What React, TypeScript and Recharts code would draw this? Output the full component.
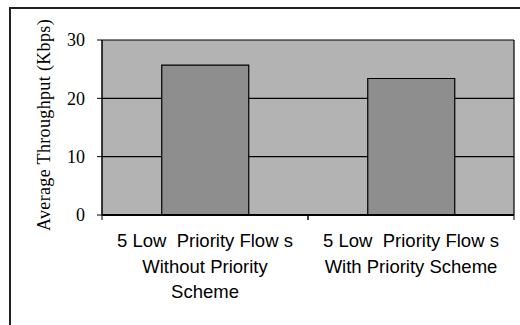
import { BarChart, Bar, XAxis, YAxis, CartesianGrid } from "recharts";

const categories = ["Without Priority Scheme", "With Priority Scheme"];
const tickLabels = [
  ["5 Low  Priority Flow s", "Without Priority", "Scheme"],
  ["5 Low  Priority Flow s", "With Priority Scheme"],
];
const throughput = [25.7, 23.4];
const yTicks = [0, 10, 20, 30];

const data = categories.map((name, i) => ({ name, value: throughput[i], lines: tickLabels[i] }));

const serif = "'Liberation Serif', 'Times New Roman', serif";
const sans = "'Liberation Sans', Arial, sans-serif";

const CategoryTick = (props: any) => {
  const { x, y, payload, index } = props;
  const half = payload.offset || 0;
  const lines = tickLabels[index] || [];
  return (
    <g>
      <line x1={x - half} y1={y} x2={x - half} y2={y + 5} stroke="#000" />
      <line x1={x + half} y1={y} x2={x + half} y2={y + 5} stroke="#000" />
      {lines.map((t, i) => (
        <text
          key={i}
          x={x}
          y={y + 32 + i * 25.5}
          textAnchor="middle"
          fontFamily={sans}
          fontSize={18.5}
          fill="#000"
          style={{ whiteSpace: "pre" }}
        >
          {t}
        </text>
      ))}
    </g>
  );
};

export default function App() {
  return (
    <div style={{ position: "absolute", left: 0, top: 0, width: 520, height: 325, overflow: "hidden", background: "#fff" }}>
      <div
        style={{
          position: "absolute",
          left: 9,
          top: 7,
          width: 600,
          height: 400,
          borderLeft: "2px solid #222",
          borderTop: "2px solid #222",
        }}
      />
      <BarChart
        width={520}
        height={325}
        data={data}
        margin={{ top: 40, right: 6, bottom: 0, left: 0 }}
        barCategoryGap="29%"
        style={{ position: "absolute", left: 0, top: 0 }}
      >
        <CartesianGrid
          vertical={true}
          horizontal={true}
          stroke="#000"
          strokeWidth={1.2}
          fill="#b3b3b3"
          fillOpacity={1}
          verticalCoordinatesGenerator={({ offset }: any) => [offset.left + offset.width]}
        />
        <XAxis
          dataKey="name"
          height={110}
          axisLine={{ stroke: "#000", strokeWidth: 2 }}
          tickLine={false}
          tickSize={0}
          tickMargin={0}
          interval={0}
          tick={<CategoryTick />}
        />
        <YAxis
          width={102}
          domain={[0, 30]}
          ticks={yTicks}
          axisLine={{ stroke: "#000", strokeWidth: 1.5 }}
          tickLine={{ stroke: "#000" }}
          tickSize={5}
          tickMargin={12}
          tick={{ fill: "#000", fontFamily: serif, fontSize: 18 }}
        />
        <Bar dataKey="value" fill="#8e8e8e" stroke="#000" strokeWidth={1.2} isAnimationActive={false} />
        <text
          x={44}
          y={125}
          transform="rotate(-90 44 125)"
          textAnchor="middle"
          dominantBaseline="central"
          fontFamily={serif}
          fontSize={18}
          letterSpacing={0.35}
          fill="#000"
        >
          Average Throughput (Kbps)
        </text>
      </BarChart>
    </div>
  );
}
